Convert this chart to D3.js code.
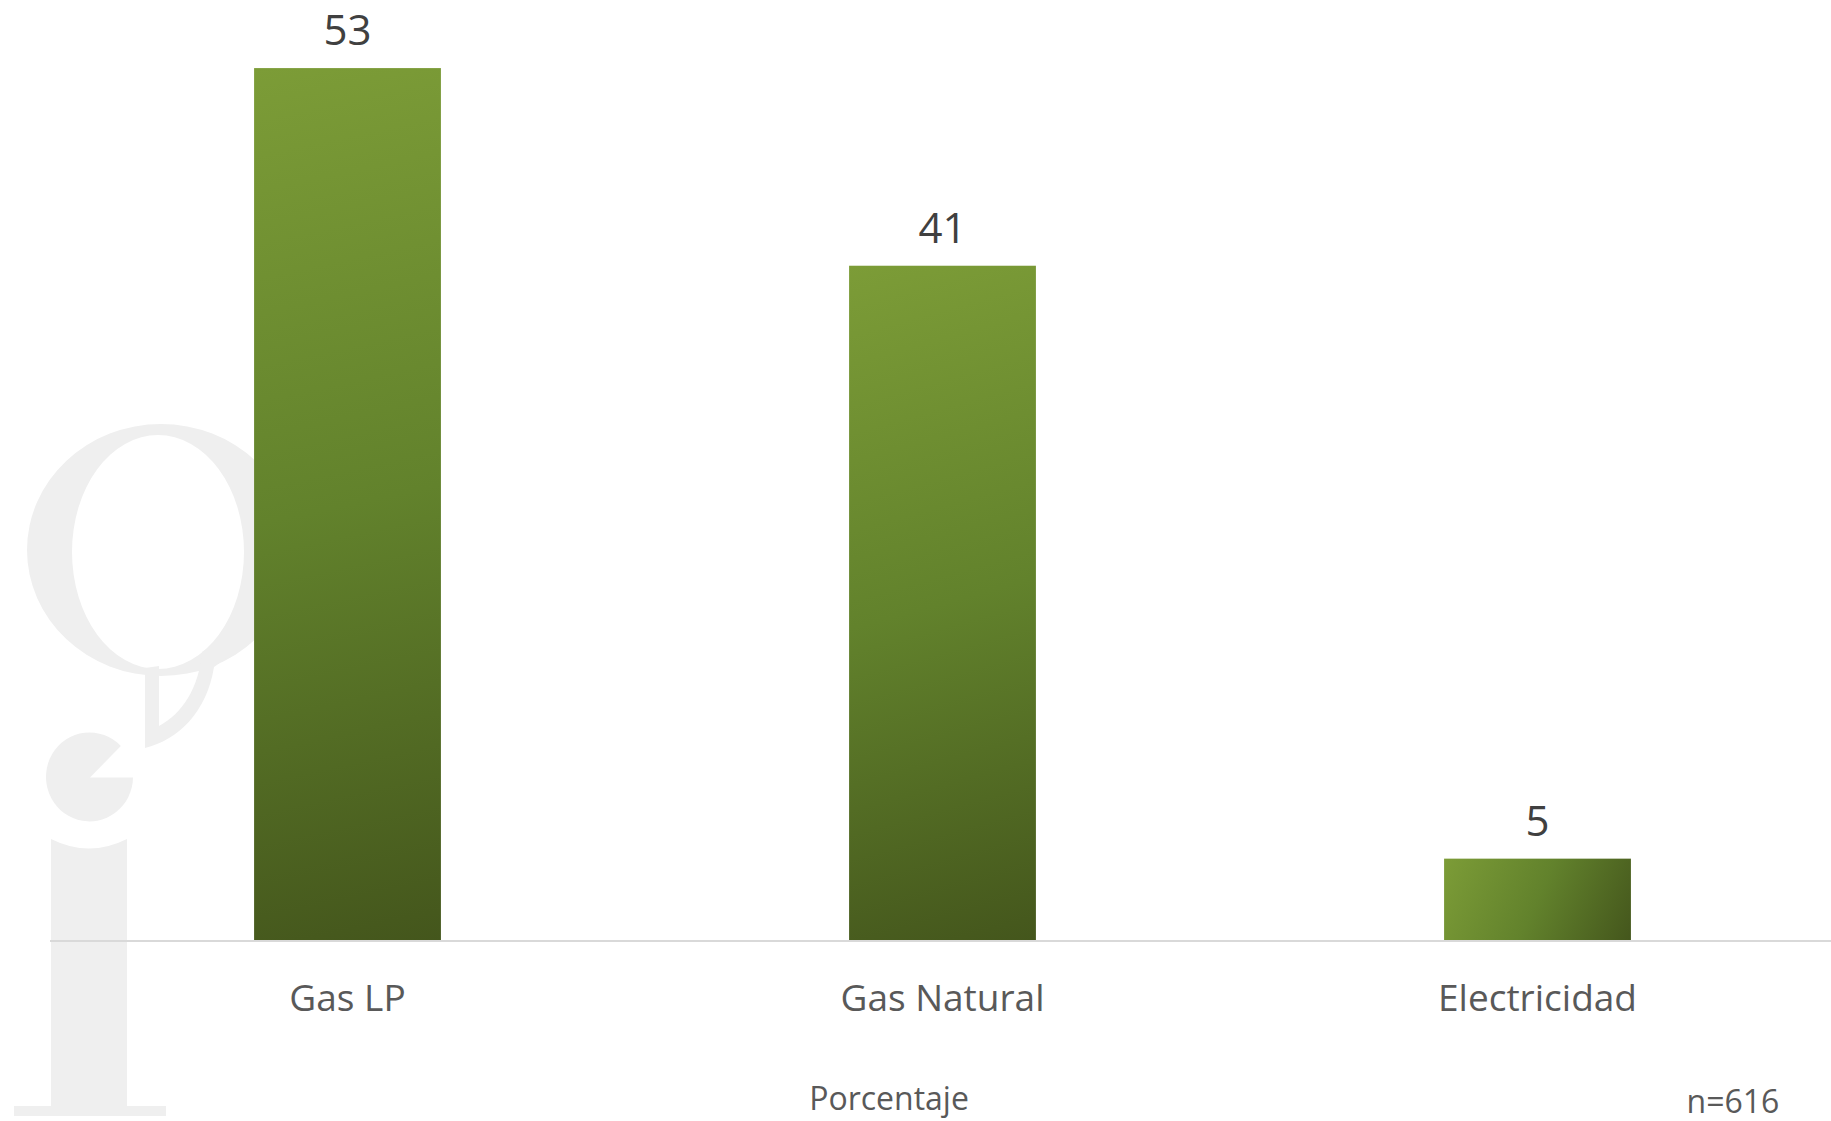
<!DOCTYPE html>
<html>
<head>
<meta charset="utf-8">
<script src="https://cdn.jsdelivr.net/npm/d3@7"></script>
<style>
  html, body { margin: 0; padding: 0; background: #fff; overflow: hidden; }
  svg { display: block; font-family: 'Open Sans', sans-serif; }
</style>
</head>
<body>
<div id="chart"></div>
<script>
// chart data
var categories = ['Gas LP', 'Gas Natural', 'Electricidad'];
var values = [53, 41, 5];
var axisTitle = 'Porcentaje';
var sampleNote = 'n=616';

var width = 1831;
var height = 1121;
var baseY = 941;

var svg = d3.select('#chart')
  .append('svg')
  .attr('width', width)
  .attr('height', height);

var defs = svg.append('defs');

// watermark logo behind the bars
var mark = svg.append('g').attr('fill', '#efefef');
mark.append('path')
  .attr('fill-rule', 'evenodd')
  .attr('d', 'M27,550 a134,126 0 1,0 268,0 a134,126 0 1,0 -268,0 Z ' +
             'M72,552 a86,117 0 1,0 172,0 a86,117 0 1,0 -172,0 Z');
mark.append('path')
  .attr('d', 'M145,668 L145,748 C178,740 207,712 214,667 L245,645 L238,628 L202,652 ' +
             'C199,688 182,714 159,726 L159,666 Z');
mark.append('path')
  .attr('d', 'M90,777.5 L133,777.5 A43.5,44.5 0 1,1 120.8,746 Z');
mark.append('path')
  .attr('d', 'M51,839 Q89,858 127,839 L127,1106 Q150,1106 166,1106 L166,1116 L14,1116 L14,1106 L51,1106 Z');

// scales
var x = d3.scaleBand()
  .domain(categories)
  .range([50, 1835])
  .paddingInner(0.686)
  .paddingOuter(0.343);

var y = d3.scaleLinear()
  .domain([0, 55])
  .range([baseY, baseY - 16.47 * 55]);

// one gradient per bar, running corner to corner in user space
values.forEach(function(d, i) {
  var x0 = x(categories[i]);
  var g = defs.append('linearGradient')
    .attr('id', 'barGrad' + i)
    .attr('gradientUnits', 'userSpaceOnUse')
    .attr('x1', x0).attr('y1', y(d))
    .attr('x2', x0 + x.bandwidth()).attr('y2', y(0));
  g.append('stop').attr('offset', '0%').attr('stop-color', '#7c9c37');
  g.append('stop').attr('offset', '50%').attr('stop-color', '#62822c');
  g.append('stop').attr('offset', '100%').attr('stop-color', '#44561c');
});

// bars
svg.selectAll('.bar')
  .data(values)
  .enter()
  .append('rect')
  .attr('class', 'bar')
  .attr('x', function(d, i) { return x(categories[i]); })
  .attr('y', function(d) { return y(d); })
  .attr('width', x.bandwidth())
  .attr('height', function(d) { return y(0) - y(d); })
  .attr('fill', function(d, i) { return 'url(#barGrad' + i + ')'; });

// baseline
svg.append('line')
  .attr('x1', 50).attr('x2', width)
  .attr('y1', baseY).attr('y2', baseY)
  .attr('stroke', '#d9d9d9')
  .attr('stroke-width', 2);

// value labels
svg.selectAll('.val')
  .data(values)
  .enter()
  .append('text')
  .attr('class', 'val')
  .attr('x', function(d, i) { return x(categories[i]) + x.bandwidth() / 2; })
  .attr('y', function(d) { return y(d) - 23; })
  .attr('text-anchor', 'middle')
  .attr('font-size', 42)
  .attr('fill', '#404040')
  .text(function(d) { return d; });

// category labels
svg.selectAll('.cat')
  .data(categories)
  .enter()
  .append('text')
  .attr('class', 'cat')
  .attr('x', function(d) { return x(d) + x.bandwidth() / 2; })
  .attr('y', baseY + 69.5)
  .attr('text-anchor', 'middle')
  .attr('font-size', 37)
  .attr('fill', '#595959')
  .text(function(d) { return d; });

// axis title and sample size
svg.append('text')
  .attr('x', 889)
  .attr('y', 1110)
  .attr('text-anchor', 'middle')
  .attr('font-size', 32)
  .attr('fill', '#595959')
  .text(axisTitle);

svg.append('text')
  .attr('x', 1733)
  .attr('y', 1113)
  .attr('text-anchor', 'middle')
  .attr('font-size', 32)
  .attr('fill', '#595959')
  .text(sampleNote);
</script>
</body>
</html>
